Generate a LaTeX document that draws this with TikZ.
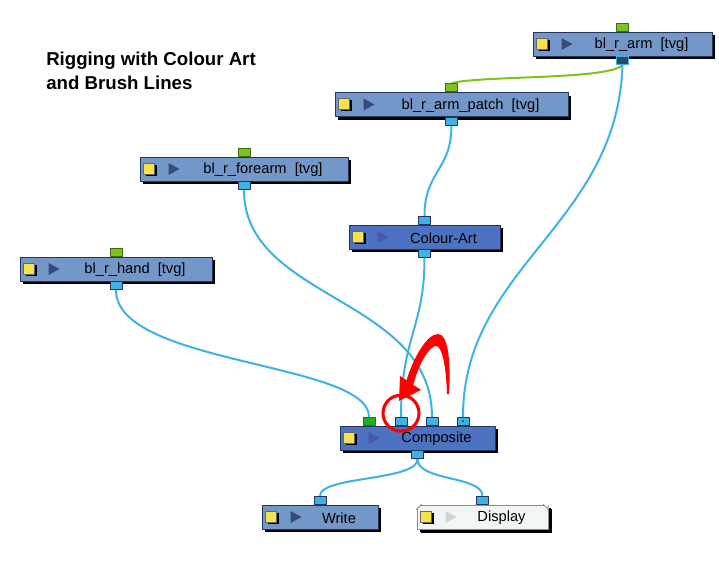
\documentclass[tikz,border=0pt]{standalone}
\usepackage{fontspec}
\setmainfont{Liberation Sans}
\usetikzlibrary{calc,shadows,backgrounds}

\definecolor{nodeblue}{HTML}{7397C9}
\definecolor{nodedark}{HTML}{4D72C2}
\definecolor{navy}{HTML}{22355E}
\definecolor{tri}{HTML}{3A4A78}
\definecolor{tridark}{HTML}{4A58A8}
\definecolor{wirecol}{HTML}{3DB2E3}
\definecolor{portdark}{HTML}{2F4968}
\definecolor{lime}{HTML}{7DC21F}
\definecolor{limedark}{HTML}{3F6A12}
\definecolor{portgreen}{HTML}{1FB01F}
\definecolor{iconyellow}{HTML}{F6E24A}
\definecolor{dispfill}{HTML}{F1F6F3}
\definecolor{dispedge}{HTML}{8A9090}

\begin{document}
\begin{tikzpicture}[
    x=0.75pt, y=-0.75pt,
    line cap=round,
    line join=round,
    font=\fontsize{11}{13}\selectfont,
    modbox/.style={draw=navy, line width=0.7pt, fill=nodeblue, inner sep=0pt,
        minimum width=#1*0.75pt, minimum height=24*0.75pt,
        drop shadow={shadow xshift=2.6pt, shadow yshift=-2.6pt, fill=black, opacity=1}},
    port/.style={draw=navy, line width=0.5pt, fill=wirecol, inner sep=0pt,
        minimum width=9pt, minimum height=6pt},
    gport/.style={port, fill=lime, draw=limedark},
    wire/.style={draw=wirecol, line width=1.5pt},
    title/.style={font=\fontsize{14}{18}\selectfont\bfseries, align=left, inner sep=0pt}
]
\useasboundingbox (0,0) rectangle (719,574);

% Title
\node[title, anchor=north west] (title) at (46,52) {Rigging with Colour Art\\and Brush Lines};

% Module boxes
\node[modbox=179] (arm) at (622.5,44) {};
\node[modbox=233] (patch) at (451.5,104.5) {};
\node[modbox=208] (forearm) at (244,169) {};
\node[modbox=192] (hand) at (116,269) {};
\node[modbox=151, fill=nodedark] (colour) at (424.5,237) {};
\node[modbox=155, fill=nodedark] (composite) at (417.5,438) {};
\node[modbox=116] (write) at (320,517) {};
\fill[black] (421,509) rectangle ++(131,24);
\node[modbox=131, fill=dispfill, draw=dispedge] (display) at (482.5,517) {};
% cut top corners of the display box
\fill[white] (display.north west) -- ++(5,0) -- ++(-5,5) -- cycle;
\fill[white] (display.north east) -- ++(-5,0) -- ++(5,5) -- cycle;
\draw[dispedge, line width=0.7pt] ($(display.north west)+(0,5)$) -- ++(5,-5);
\draw[dispedge, line width=0.7pt] ($(display.north east)+(0,5)$) -- ++(-5,-5);

% Icons and labels
\foreach \n/\c/\t in {arm/tri/{bl\_r\_arm\ \ [tvg]}, patch/tri/{bl\_r\_arm\_patch\ \ [tvg]},
    forearm/tri/{bl\_r\_forearm\ \ [tvg]}, hand/tri/{bl\_r\_hand\ \ [tvg]},
    colour/tridark/{Colour-Art}, composite/tridark/{Composite},
    write/tri/{Write}, display/gray!35/{Display}} {
    \fill[black] ($(\n.west)+(6,-4)$) rectangle ++(11,11);
    \filldraw[fill=iconyellow, draw=black!60, line width=0.3pt] ($(\n.west)+(4,-6)$) rectangle ++(11,11);
    \fill[\c] ($(\n.west)+(29,-6)$) -- ++(0,12) -- ++(11,-6) -- cycle;
    \node (\n-lbl) at ($(\n.center)+(19,1)$) {\t};
}

% Ports
\node[gport, anchor=south] (arm-in) at (arm.north) {};
\node[port, anchor=north, fill=portdark, draw=wirecol] (arm-out) at (arm.south) {};
\node[gport, anchor=south] (patch-in) at (patch.north) {};
\node[port, anchor=north] (patch-out) at (patch.south) {};
\node[gport, anchor=south] (forearm-in) at (forearm.north) {};
\node[port, anchor=north] (forearm-out) at (forearm.south) {};
\node[gport, anchor=south] (hand-in) at (hand.north) {};
\node[port, anchor=north] (hand-out) at (hand.south) {};
\node[port, anchor=south] (colour-in) at (colour.north) {};
\node[port, anchor=north] (colour-out) at (colour.south) {};
\node[port, anchor=south, fill=portgreen, draw=limedark] (comp-in1) at ($(composite.north)+(-48.5,0)$) {};
\node[port, anchor=south] (comp-in2) at ($(composite.north)+(-16.5,0)$) {};
\node[port, anchor=south] (comp-in3) at ($(composite.north)+(14.5,0)$) {};
\node[port, anchor=south] (comp-in4) at ($(composite.north)+(45.5,0)$) {};
\fill[navy] (comp-in4) circle[radius=1.2];
\node[port, anchor=north] (comp-out) at (composite.south) {};
\node[port, anchor=south] (write-in) at (write.north) {};
\node[port, anchor=south] (display-in) at (display.north) {};

% Connections
\begin{scope}[on background layer]
\draw[draw=lime, line width=1.5pt] (arm-out.south) .. controls +(-15,15) and +(25,-8) .. (patch-in.north);
\draw[wire] (arm-out.south) .. controls +(-5,160) and +(0,-150) .. (comp-in4.north);
\draw[wire] (patch-out.south) .. controls +(0,45) and +(0,-45) .. (colour-in.north);
\draw[wire] (colour-out.south) .. controls +(0,70) and +(0,-80) .. (comp-in2.north);
\draw[wire] (forearm-out.south) .. controls +(0,110) and +(0,-120) .. (comp-in3.north);
\draw[wire] (hand-out.south) .. controls +(0,75) and +(0,-55) .. (comp-in1.north);
\draw[wire] (comp-out.south) .. controls +(0,22) and +(0,-20) .. (write-in.north);
\draw[wire] (comp-out.south) .. controls +(0,22) and +(0,-20) .. (display-in.north);
\end{scope}

% Highlight
\draw[red, line width=2.3pt] ($(comp-in2)+(0,-8)$) circle[radius=18];
\fill[red] (449,394) .. controls (451,360) and (448,334) .. (438,334)
    .. controls (427,334) and (413,358) .. (406,382)
    -- (413,386) .. controls (419,362) and (430,346) .. (436,346)
    .. controls (442,346) and (446,365) .. (447,394) -- cycle;
\fill[red] (399,401) -- (400,376) -- (421,390) -- cycle;

\end{tikzpicture}
\end{document}
